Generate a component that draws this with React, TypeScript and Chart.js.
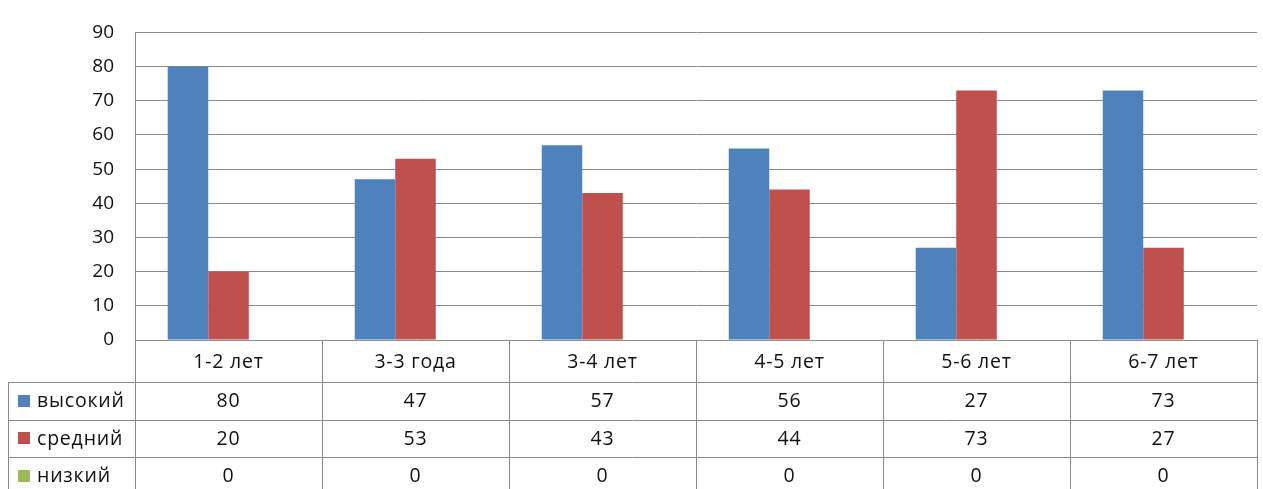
import React, { useEffect, useRef } from "react";
import { Chart, registerables } from "chart.js";

Chart.register(...registerables);

const categories = ["1-2 лет", "3-3 года", "3-4 лет", "4-5 лет", "5-6 лет", "6-7 лет"];
const seriesNames = ["высокий", "средний", "низкий"];
const highValues = [80, 47, 57, 56, 27, 73];
const midValues = [20, 53, 43, 44, 73, 27];
const lowValues = [0, 0, 0, 0, 0, 0];
const seriesColors = ["#4F81BD", "#C0504D", "#9BBB59"];
const yTicks = [0, 10, 20, 30, 40, 50, 60, 70, 80, 90];

const FONT = "'Open Sans', Lato, sans-serif";
const LINE = "#8a8a8a";
const TEXT = "#111111";

const tablePlugin = {
  id: "dataTable",
  afterDraw(chart: any) {
    const ctx = chart.ctx as any;
    const { left, right, bottom } = chart.chartArea;
    const x = chart.scales.x;
    const n = categories.length;
    const colW = (right - left) / n;
    const tableLeft = 8;
    const headerBottom = bottom + 42;
    const rowH = 37.5;
    const allSeries = [highValues, midValues, lowValues];
    const tableBottom = headerBottom + rowH * allSeries.length;

    ctx.save();
    ctx.strokeStyle = LINE;
    ctx.lineWidth = 1;
    ctx.beginPath();
    for (let i = 0; i <= n; i++) {
      const cx = Math.round(left + colW * i) + 0.5;
      ctx.moveTo(cx, bottom);
      ctx.lineTo(cx, tableBottom);
    }
    ctx.moveTo(tableLeft + 0.5, headerBottom);
    ctx.lineTo(tableLeft + 0.5, tableBottom);
    for (let r = 0; r <= allSeries.length; r++) {
      const y = Math.round(headerBottom + rowH * r) + 0.5;
      ctx.moveTo(tableLeft, y);
      ctx.lineTo(right, y);
    }
    ctx.stroke();

    ctx.fillStyle = TEXT;
    ctx.font = `19.5px ${FONT}`;
    ctx.letterSpacing = "0.8px";
    ctx.textAlign = "center";
    ctx.textBaseline = "middle";
    categories.forEach((c, i) => {
      const cx = x.getPixelForValue(i);
      ctx.fillText(c, cx, (bottom + headerBottom) / 2 + 1);
    });
    allSeries.forEach((vals, r) => {
      const cy = headerBottom + rowH * r + rowH / 2 + 1;
      vals.forEach((v, i) => {
        ctx.fillText(String(v), x.getPixelForValue(i), cy);
      });
      ctx.fillStyle = seriesColors[r];
      ctx.fillRect(tableLeft + 10, Math.round(cy - 7), 12, 12);
      ctx.fillStyle = TEXT;
      ctx.textAlign = "left";
      ctx.fillText(seriesNames[r], tableLeft + 29, cy);
      ctx.textAlign = "center";
    });
    ctx.restore();
  },
};

export default function App() {
  const ref = useRef<HTMLCanvasElement | null>(null);
  useEffect(() => {
    if (!ref.current) return;
    const chart = new Chart(ref.current, {
      type: "bar",
      data: {
        labels: categories,
        datasets: [
          { label: seriesNames[0], data: highValues, backgroundColor: seriesColors[0] },
          { label: seriesNames[1], data: midValues, backgroundColor: seriesColors[1] },
          { label: seriesNames[2], data: lowValues, backgroundColor: seriesColors[2] },
        ],
      },
      options: {
        responsive: false,
        animation: false,
        devicePixelRatio: 1,
        layout: { padding: { left: 0, top: 25, right: 6, bottom: 149 } },
        datasets: { bar: { categoryPercentage: 0.65, barPercentage: 1.0 } },
        plugins: { legend: { display: false }, tooltip: { enabled: false } },
        scales: {
          x: { display: false },
          y: {
            min: 0,
            max: 90,
            afterFit(scale: any) {
              scale.width = 135;
            },
            afterBuildTicks(scale: any) {
              scale.ticks = yTicks.map((v) => ({ value: v }));
            },
            ticks: {
              padding: 21,
              color: TEXT,
              font: { family: FONT, size: 19 },
            },
            grid: { color: LINE, drawTicks: false, lineWidth: 1 },
            border: { display: true, color: LINE },
          },
        },
      },
      plugins: [tablePlugin],
    });
    return () => chart.destroy();
  }, []);
  return (
    <div style={{ position: "fixed", left: 0, top: 0, width: 1263, height: 489, background: "#fff" }}>
      <canvas ref={ref} width={1263} height={489} style={{ display: "block" }} />
    </div>
  );
}
